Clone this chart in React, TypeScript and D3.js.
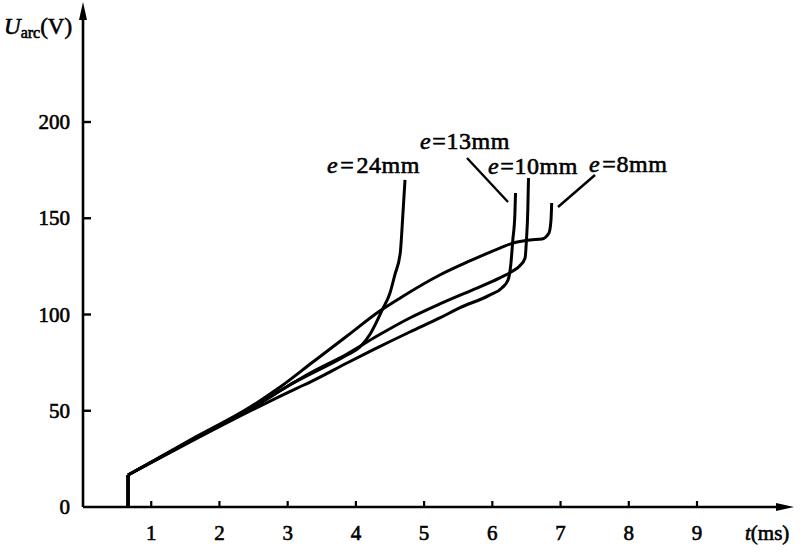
import React from "react";
import * as d3 from "d3";

const xTicks = [1, 2, 3, 4, 5, 6, 7, 8, 9];
const yTicks = [0, 50, 100, 150, 200];

const t8 = [0.66, 0.66, 1.57, 2.45, 2.89, 3.37, 3.87, 4.35, 4.65, 5.23, 5.67, 6.11, 6.30, 6.55, 6.73, 6.83, 6.86, 6.87];
const u8 = [0, 16.6, 34.8, 51.9, 62.3, 75.3, 88.8, 101.8, 108.6, 120.5, 127.8, 134.5, 137.1, 138.7, 139.2, 142.3, 149.1, 157.9];

const t10 = [0.66, 0.66, 1.57, 2.45, 3.03, 3.33, 3.87, 4.31, 4.79, 5.23, 5.67, 6.11, 6.30, 6.40, 6.48, 6.50, 6.52, 6.53];
const u10 = [0, 16.6, 34.3, 50.9, 63.4, 69.6, 79.5, 88.8, 98.2, 105.5, 112.2, 119.0, 122.6, 125.2, 129.4, 138.7, 154.3, 170.9];

const t13 = [0.66, 0.66, 1.57, 2.45, 3.14, 3.33, 3.87, 4.25, 4.79, 5.23, 5.52, 5.96, 6.14, 6.23, 6.27, 6.30, 6.33, 6.34];
const u13 = [0, 16.6, 33.8, 49.9, 61.8, 64.9, 74.8, 81.6, 90.9, 98.2, 103.4, 110.1, 113.8, 117.9, 125.7, 138.7, 151.7, 163.1];

const t24 = [0.66, 0.66, 1.57, 2.45, 3.03, 3.87, 4.06, 4.21, 4.40, 4.50, 4.57, 4.65, 4.69, 4.72];
const u24 = [0, 16.6, 34.3, 50.9, 63.4, 79.0, 83.1, 89.9, 103.4, 111.2, 120.5, 131.9, 152.7, 169.9];

const seriesNames = ["24", "13", "10", "8"];

export default function App() {
  const x = d3.scaleLinear().domain([0, 9]).range([83, 697]);
  const y = d3.scaleLinear().domain([0, 200]).range([507, 122]);
  const curveLine = d3
    .line<[number, number]>()
    .x((d) => x(d[0]))
    .y((d) => y(d[1]))
    .curve(d3.curveMonotoneX);
  const straight = d3
    .line<[number, number]>()
    .x((d) => x(d[0]))
    .y((d) => y(d[1]));

  const series = [
    { t: t24, u: u24 },
    { t: t13, u: u13 },
    { t: t10, u: u10 },
    { t: t8, u: u8 },
  ];

  const font = "'Liberation Serif', 'Times New Roman', serif";
  const x0 = x(0);
  const y0 = y(0);
  const ink = { fill: "#000", stroke: "#000", strokeWidth: 0.6 };

  return (
    <svg
      width={803}
      height={558}
      style={{ position: "absolute", left: 0, top: 0, background: "#fff" }}
      fontFamily={font}
    >
      <rect width={803} height={558} fill="#fff" />
      {/* axes */}
      <line x1={x0} y1={y0} x2={x0} y2={12} stroke="#000" strokeWidth={2.6} />
      <path d={`M${x0 - 4},20 L${x0},2 L${x0 + 4},20 Z`} fill="#000" />
      <line x1={x0} y1={y0} x2={782} y2={y0} stroke="#000" strokeWidth={2.6} />
      <path d={`M776,${y0 - 4} L794,${y0} L776,${y0 + 4} Z`} fill="#000" />

      {yTicks.map((v) => (
        <g key={"y" + v}>
          {v > 0 && (
            <line x1={x0} x2={x0 + 8} y1={y(v)} y2={y(v)} stroke="#000" strokeWidth={2.4} />
          )}
          <text x={70} y={y(v) + 7} textAnchor="end" fontSize={21} {...ink}>
            {v}
          </text>
        </g>
      ))}
      {xTicks.map((v) => (
        <g key={"x" + v}>
          <line x1={x(v)} x2={x(v)} y1={y0} y2={y0 - 6} stroke="#000" strokeWidth={2.2} />
          <text x={x(v)} y={540} textAnchor="middle" fontSize={21} {...ink}>
            {v}
          </text>
        </g>
      ))}

      {/* axis titles */}
      <text x={4} y={34} fontSize={23} {...ink}>
        <tspan fontStyle="italic">U</tspan>
        <tspan fontSize={16} dy={4}>arc</tspan>
        <tspan dy={-4}>(V)</tspan>
      </text>
      <text x={745} y={540} fontSize={21} {...ink}>
        <tspan fontStyle="italic">t</tspan>
        <tspan>(ms)</tspan>
      </text>

      {/* curves */}
      {series.map((s, i) => {
        const pts = s.t.map((tv, j) => [tv, s.u[j]] as [number, number]);
        return (
          <g key={seriesNames[i]}>
            <path d={straight(pts.slice(0, 2)) || ""} fill="none" stroke="#000" strokeWidth={3} />
            <path
              d={curveLine(pts.slice(1)) || ""}
              fill="none"
              stroke="#000"
              strokeWidth={3}
              strokeLinejoin="round"
            />
          </g>
        );
      })}

      {/* pointer lines */}
      <line x1={467} y1={158} x2={508} y2={202} stroke="#000" strokeWidth={2.4} />
      <line x1={595} y1={175} x2={558} y2={207} stroke="#000" strokeWidth={2.4} />

      {/* curve labels */}
      <g fontSize={24} letterSpacing={0.6} {...ink}>
        <text x={327} y={173}>
          <tspan fontStyle="italic">e</tspan>
          <tspan dx={2}>=</tspan>
          <tspan dx={2}>24mm</tspan>
        </text>
        <text x={420} y={149}>
          <tspan fontStyle="italic">e</tspan>
          <tspan dx={1}>=</tspan>
          <tspan>13mm</tspan>
        </text>
        <text x={488} y={174}>
          <tspan fontStyle="italic">e</tspan>
          <tspan dx={1}>=</tspan>
          <tspan>10mm</tspan>
        </text>
        <text x={589} y={172}>
          <tspan fontStyle="italic">e</tspan>
          <tspan dx={2}>=</tspan>
          <tspan>8mm</tspan>
        </text>
      </g>
    </svg>
  );
}
